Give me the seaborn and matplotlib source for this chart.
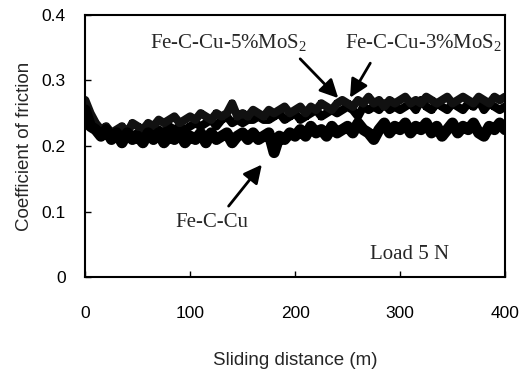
import numpy as np
import pandas as pd
import seaborn as sns
import matplotlib.pyplot as plt

# sliding distance (m), sampled every 5 m
distance = np.arange(0, 405, 5)

fe_c_cu = [0.255, 0.23, 0.225, 0.215, 0.225, 0.21, 0.22, 0.205, 0.22, 0.21,
           0.215, 0.205, 0.22, 0.21, 0.22, 0.205, 0.215, 0.21, 0.22, 0.205,
           0.215, 0.21, 0.22, 0.205, 0.22, 0.21, 0.215, 0.22, 0.205, 0.215,
           0.22, 0.21, 0.22, 0.21, 0.215, 0.22, 0.19, 0.215, 0.21, 0.22,
           0.215, 0.225, 0.215, 0.23, 0.22, 0.225, 0.215, 0.23, 0.22, 0.225,
           0.23, 0.22, 0.235, 0.225, 0.22, 0.21, 0.225, 0.235, 0.22, 0.23,
           0.225, 0.235, 0.22, 0.23, 0.225, 0.235, 0.22, 0.23, 0.215, 0.225,
           0.235, 0.22, 0.23, 0.225, 0.235, 0.22, 0.215, 0.23, 0.225, 0.235, 0.225]

mos2_5 = [0.27, 0.25, 0.235, 0.225, 0.23, 0.22, 0.225, 0.23, 0.22, 0.235,
          0.23, 0.225, 0.235, 0.23, 0.24, 0.235, 0.24, 0.245, 0.235, 0.24,
          0.245, 0.24, 0.25, 0.245, 0.24, 0.25, 0.245, 0.25, 0.265, 0.245,
          0.25, 0.245, 0.255, 0.25, 0.245, 0.255, 0.25, 0.255, 0.26, 0.25,
          0.255, 0.26, 0.25, 0.26, 0.255, 0.265, 0.26, 0.255, 0.265, 0.27,
          0.265, 0.26, 0.27, 0.265, 0.275, 0.265, 0.27, 0.26, 0.27, 0.265,
          0.27, 0.275, 0.265, 0.27, 0.265, 0.275, 0.27, 0.265, 0.27, 0.275,
          0.265, 0.27, 0.275, 0.27, 0.265, 0.275, 0.27, 0.265, 0.275, 0.27, 0.275]

mos2_3 = [0.255, 0.24, 0.225, 0.215, 0.22, 0.21, 0.22, 0.215, 0.225, 0.215,
          0.22, 0.215, 0.225, 0.22, 0.225, 0.22, 0.23, 0.225, 0.23, 0.225,
          0.23, 0.235, 0.23, 0.235, 0.24, 0.23, 0.24, 0.245, 0.235, 0.24,
          0.235, 0.24, 0.24, 0.245, 0.24, 0.24, 0.245, 0.25, 0.24, 0.245,
          0.25, 0.24, 0.245, 0.25, 0.255, 0.245, 0.25, 0.255, 0.25, 0.255,
          0.26, 0.255, 0.245, 0.26, 0.255, 0.26, 0.255, 0.265, 0.255, 0.26,
          0.255, 0.26, 0.265, 0.255, 0.27, 0.26, 0.255, 0.265, 0.26, 0.255,
          0.265, 0.26, 0.255, 0.265, 0.26, 0.27, 0.255, 0.265, 0.26, 0.255, 0.26]

xticks = [0, 100, 200, 300, 400]
yticks = [0, 0.1, 0.2, 0.3, 0.4]
ytick_labels = ["0", "0.1", "0.2", "0.3", "0.4"]

sns.set_style("ticks")
plt.rcParams['font.family'] = ['Liberation Sans', 'DejaVu Sans']
plt.rcParams['mathtext.fontset'] = 'custom'
plt.rcParams['mathtext.rm'] = 'Liberation Serif'

fig = plt.figure(figsize=(5.26, 3.72), dpi=100)
ax = fig.add_axes([0.162, 0.255, 0.798, 0.705])

sns.lineplot(x=distance, y=mos2_3, color='black', lw=6, marker='s',
             markersize=4, markeredgewidth=0, ax=ax)
sns.lineplot(x=distance, y=mos2_5, color='#111111', lw=6, marker='s',
             markersize=4, markeredgewidth=0, ax=ax)
sns.lineplot(x=distance, y=fe_c_cu, color='black', lw=8, marker='s',
             markersize=4, markeredgewidth=0, ax=ax)

ax.set_xlim(0, 400)
ax.set_ylim(0, 0.4)
ax.set_xticks(xticks)
ax.set_yticks(yticks)
ax.set_yticklabels(ytick_labels)
ax.tick_params(direction='in', length=4, width=1, labelsize=12.5,
               color='black', labelcolor='black')
ax.tick_params(axis='x', pad=21)
ax.tick_params(axis='y', pad=14)
for s in ax.spines.values():
    s.set_linewidth(1.5)
    s.set_color('black')
    s.set_visible(True)

ax.set_xlabel("Sliding distance (m)", fontsize=13.5, labelpad=22)
ax.set_ylabel("Coefficient of friction", fontsize=13.5, labelpad=6)

serif = dict(family='Liberation Serif', size=15, ha='center', va='center')
arrow = dict(arrowstyle='-|>,head_length=1.1,head_width=0.55', color='black', lw=2)

ax.text(137, 0.357, r"Fe-C-Cu-5%MoS$_\mathrm{2}$", **serif)
ax.annotate("", xy=(243, 0.27), xytext=(203, 0.336), arrowprops=arrow)
ax.text(322, 0.357, r"Fe-C-Cu-3%MoS$_\mathrm{2}$", **serif)
ax.annotate("", xy=(251, 0.27), xytext=(273, 0.33), arrowprops=arrow)
ax.text(121, 0.084, "Fe-C-Cu", **serif)
ax.annotate("", xy=(170, 0.175), xytext=(135, 0.105), arrowprops=arrow)
ax.text(309, 0.034, "Load 5 N", **serif)

fig.savefig("out.png", dpi=100)
